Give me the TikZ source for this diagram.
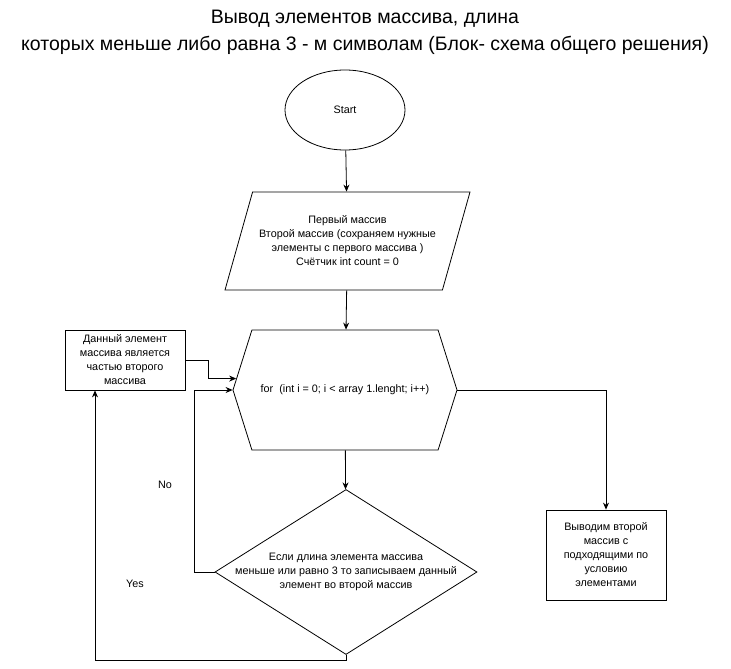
\documentclass[tikz,border=0pt]{standalone}
\usepackage{fontspec}
\setmainfont{Liberation Sans}
\usetikzlibrary{arrows.meta, positioning, shapes.geometric, shapes.symbols}
\tikzset{
  every picture/.style={line width=0.8pt},
  block/.style={draw, align=center, inner sep=2pt, font=\fontsize{10.8}{14}\selectfont},
  arrow/.style={-{Stealth[length=7pt, width=6pt]}},
  title/.style={font=\fontsize{19.5}{27}\selectfont, align=center},
  tag/.style={font=\fontsize{10.8}{14}\selectfont},
}
\begin{document}
\begin{tikzpicture}[x=1pt, y=-1pt]
  \useasboundingbox[fill=white] (0,0) rectangle (731,669);
  \node[title] (title) at (365,32) {Вывод элементов массива, длина\\которых меньше либо равна 3 - м символам (Блок- схема общего решения)};
  % blocks
  \node[block, ellipse, minimum width=120, minimum height=80] (start) at (345,110) {Start};
  \node[block, trapezium, trapezium left angle=63, trapezium right angle=117, trapezium stretches body, minimum width=245, minimum height=98] (input) at (347.5,241) {Первый массив\\Второй массив (сохраняем нужные\\элементы с первого массива )\\Счётчик int count = 0};
  \node[block, signal, signal to=west and east, signal pointer angle=145, minimum width=224, minimum height=120] (loop) at (345,390) {for\ \ (int i = 0; i < array 1.lenght; i++)};
  \node[block, diamond, shape aspect=1.59, inner xsep=-20pt, inner ysep=0pt, minimum width=262, minimum height=165] (cond) at (346,572) {Если длина элемента массива\\меньше или равно 3 то записываем данный\\элемент во второй массив};
  \node[block, minimum width=120, minimum height=60] (part) at (125,360) {Данный элемент\\массива является\\частью второго\\массива};
  \node[block, minimum width=120, minimum height=90] (output) at (606,555) {Выводим второй\\массив с\\подходящими по\\условию\\элементами};
  \node[tag] (no) at (165,485) {No};
  \node[tag] (yes) at (135,584) {Yes};
  % connectors
  \draw[arrow] (start) -- (input);
  \draw[arrow] (input) -- (loop);
  \draw[arrow] (loop) -- (cond);
  \draw[arrow] (loop.east) -| (output.north);
  \draw[arrow] (cond.west) -- ++(-20,0) |- (loop.west);
  \draw[arrow] (cond.south) -- ++(0,5) -| ([xshift=-30pt]part.south);
  \draw[arrow] (part.east) -- ++(23,0) |- (loop.174);
\end{tikzpicture}
\end{document}
